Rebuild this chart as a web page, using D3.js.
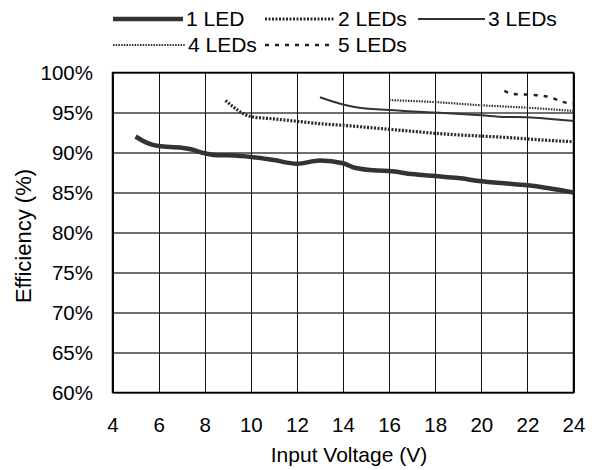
<!DOCTYPE html>
<html>
<head>
<meta charset="utf-8">
<script src="https://cdn.jsdelivr.net/npm/d3@7"></script>
<style>
body { margin: 0; background: #fff; }
text { font-family: "Liberation Sans", Arial, sans-serif; fill: #000; }
.grid line { shape-rendering: crispEdges; }
.series { fill: none; }
</style>
</head>
<body>
<script>
// series (input voltage V, efficiency %)
var vin1 = [5, 5.5, 6, 7, 7.4, 8, 8.4, 9, 10, 11, 12, 13, 14, 14.5, 15.5, 16, 17, 18, 19, 20, 21, 22, 23, 24];
var eff1 = [92.0, 91.2, 90.8, 90.6, 90.4, 89.9, 89.7, 89.65, 89.45, 89.05, 88.6, 89.0, 88.65, 88.1, 87.75, 87.7, 87.3, 87.05, 86.8, 86.4, 86.15, 85.9, 85.5, 85.0];
var vin2 = [8.9, 10, 11, 12, 13, 14, 15, 16, 17, 18, 19, 20, 21, 22, 23, 24];
var eff2 = [96.5, 94.5, 94.2, 93.9, 93.6, 93.4, 93.15, 92.9, 92.65, 92.4, 92.2, 92.05, 91.9, 91.7, 91.5, 91.35];
var vin3 = [13, 14, 14.5, 16, 18, 20, 21, 22, 23, 24];
var eff3 = [96.9, 96.0, 95.7, 95.3, 95.0, 94.65, 94.45, 94.4, 94.2, 93.95];
var vin4 = [16, 18, 20, 22, 24];
var eff4 = [96.55, 96.3, 95.9, 95.6, 95.2];
var vin5 = [21, 21.4, 22.3, 23.1, 23.5, 24];
var eff5 = [97.7, 97.3, 97.2, 96.8, 96.35, 96.15];

var labels = ["1 LED", "2 LEDs", "3 LEDs", "4 LEDs", "5 LEDs"];
var xTicks = [4, 6, 8, 10, 12, 14, 16, 18, 20, 22, 24];
var yTicks = [60, 65, 70, 75, 80, 85, 90, 95, 100];

// line look per series
var styles = [
  {stroke: "#333", width: 4.5, dash: null},
  {stroke: "#2a2a2a", width: 3.2, dash: "2,1.5"},
  {stroke: "#333", width: 2, dash: null},
  {stroke: "#333", width: 2.2, dash: "1.5,1.2"},
  {stroke: "#222", width: 2.5, dash: "4,6"}
];

var series = [[vin1, eff1], [vin2, eff2], [vin3, eff3], [vin4, eff4], [vin5, eff5]].map(function(s) {
  return s[0].map(function(v, i) { return {v: v, e: s[1][i]}; });
});

var margin = {top: 72.5, left: 112.5}, width = 461, height = 320;

var svg = d3.select("body").append("svg")
    .attr("width", 595)
    .attr("height", 470);

var g = svg.append("g")
    .attr("transform", "translate(" + margin.left + "," + margin.top + ")");

var x = d3.scaleLinear().domain([4, 24]).range([0, width]);
var y = d3.scaleLinear().domain([60, 100]).range([height, 0]);

// horizontal grid + y labels
var ya = g.append("g").attr("class", "grid")
    .call(d3.axisLeft(y).tickValues(yTicks).tickSize(-width).tickPadding(19.5)
      .tickFormat(function(d) { return d + "%"; }));
ya.select(".domain").remove();
ya.selectAll("line").attr("stroke", "#707070").attr("stroke-width", 1.5);

// vertical grid + x labels
var xa = g.append("g").attr("class", "grid")
    .attr("transform", "translate(0," + height + ")")
    .call(d3.axisBottom(x).tickValues(xTicks).tickSize(-height).tickPadding(25));
xa.select(".domain").remove();
xa.selectAll("line").attr("stroke", "#111").attr("stroke-width", 1);

svg.selectAll(".grid text")
    .attr("font-size", 20.5)
    .attr("font-family", "Liberation Sans, Arial, sans-serif");

// frame
g.append("rect")
    .attr("width", width)
    .attr("height", height)
    .attr("fill", "none")
    .attr("stroke", "#000")
    .attr("stroke-width", 1.5);

var line = d3.line()
    .x(function(d) { return x(d.v); })
    .y(function(d) { return y(d.e); })
    .curve(d3.curveMonotoneX);

g.selectAll(".series")
    .data(series)
  .enter().append("path")
    .attr("class", "series")
    .attr("d", line)
    .attr("stroke", function(d, i) { return styles[i].stroke; })
    .attr("stroke-width", function(d, i) { return styles[i].width; })
    .attr("stroke-dasharray", function(d, i) { return styles[i].dash; });

// legend
var legendPos = [
  {x: 113, y: 19, len: 70},
  {x: 265, y: 19, len: 70},
  {x: 418, y: 19, len: 67},
  {x: 113, y: 45, len: 72},
  {x: 265, y: 45, len: 70}
];

var leg = svg.selectAll(".legend")
    .data(labels)
  .enter().append("g")
    .attr("class", "legend")
    .attr("transform", function(d, i) { return "translate(" + legendPos[i].x + "," + legendPos[i].y + ")"; });

leg.append("line")
    .attr("x1", 0)
    .attr("x2", function(d, i) { return legendPos[i].len; })
    .attr("stroke", function(d, i) { return styles[i].stroke; })
    .attr("stroke-width", function(d, i) { return styles[i].width; })
    .attr("stroke-dasharray", function(d, i) { return styles[i].dash; });

leg.append("text")
    .attr("x", function(d, i) { return legendPos[i].len + 3; })
    .attr("dy", "0.35em")
    .attr("font-size", 21)
    .text(function(d) { return d; });

// axis titles
svg.append("text")
    .attr("x", 349)
    .attr("y", 461.5)
    .attr("text-anchor", "middle")
    .attr("font-size", 21)
    .text("Input Voltage (V)");

svg.append("text")
    .attr("transform", "translate(31,236) rotate(-90)")
    .attr("text-anchor", "middle")
    .attr("font-size", 22)
    .text("Efficiency (%)");
</script>
</body>
</html>
